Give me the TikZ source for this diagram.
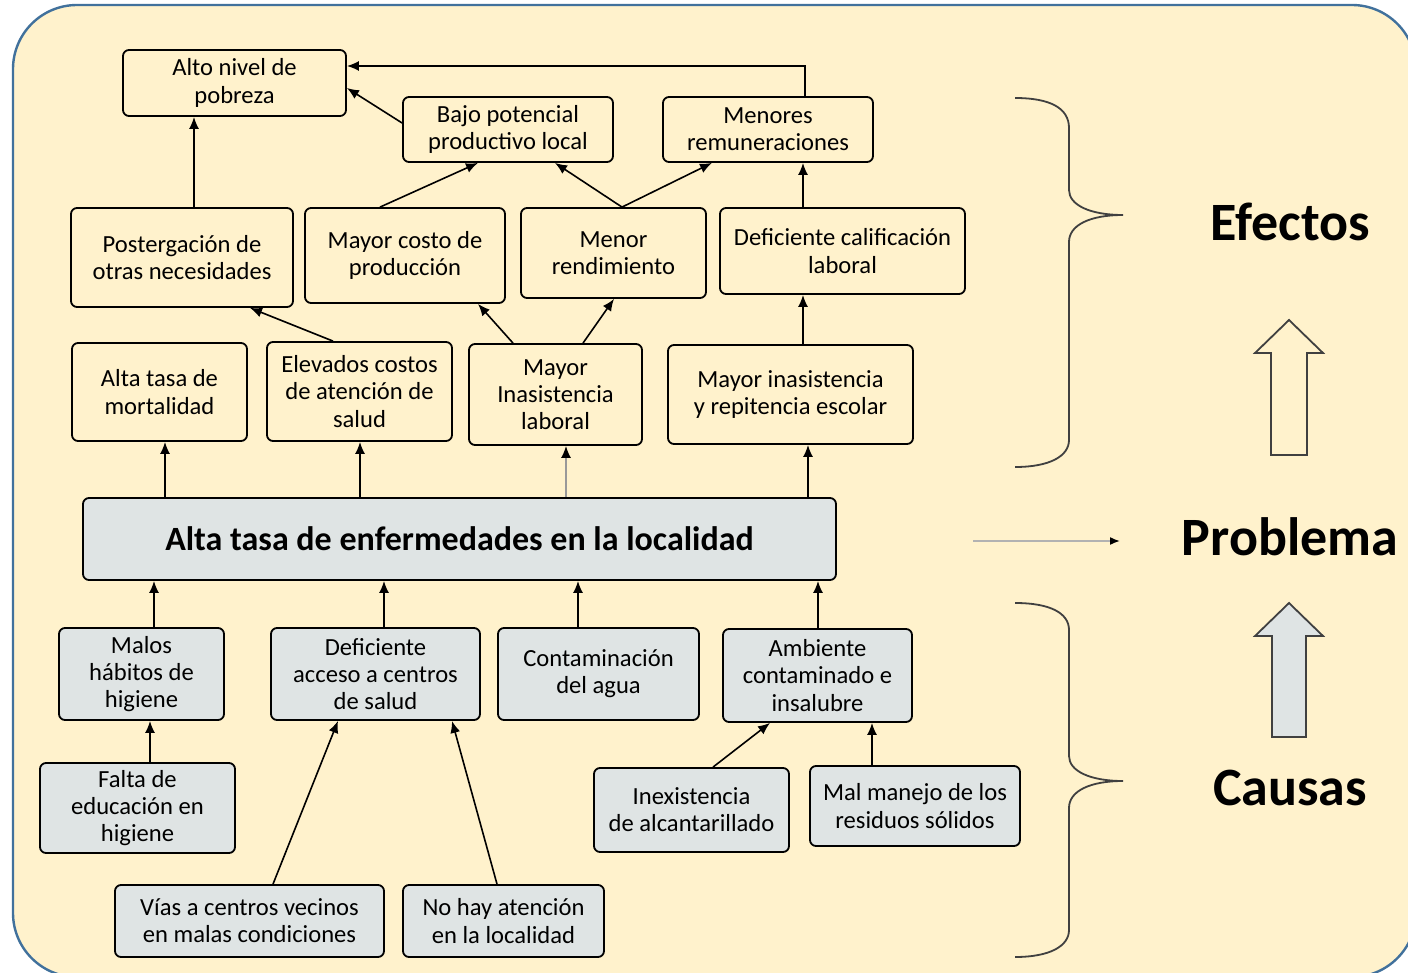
\documentclass[tikz,border=0pt]{standalone}
\usepackage{fontspec}
\setmainfont{Carlito}
\usetikzlibrary{arrows.meta}
\definecolor{cream}{HTML}{FFF2CC}
\definecolor{causegray}{HTML}{DFE4E4}
\definecolor{frameblue}{HTML}{41719C}
\tikzset{%
  >={Latex[width=5pt,length=6pt]},
  % Specifications for style of nodes:
         base/.style = {rectangle, rounded corners=3pt, draw=black,
                        line width=0.9pt, inner sep=0pt, align=center,
                        font=\fontsize{12.3}{13.6}\selectfont},
       effect/.style = {base},
        cause/.style = {base, fill=causegray},
      problem/.style = {base, fill=causegray,
                        font=\fontsize{17}{20}\bfseries},
        level/.style = {font=\fontsize{27}{32}\bfseries},
    connector/.style = {->, line width=0.8pt},
        brace/.style = {draw=black!75, line width=0.9pt},
}

\begin{document}
\begin{tikzpicture}[x=0.5pt, y=-0.5pt]
  \useasboundingbox (0,0) rectangle (1408,973);
  \clip (0,0) rectangle (1408,973);
  \filldraw[fill=cream, draw=frameblue, line width=1.2pt, rounded corners=32pt]
    (13,5) rectangle (1416,977);

  % Specification of nodes (position, etc.)
  % effects
  \node (pobreza)   [effect, minimum width=111.5pt, minimum height=33pt]
                    at (234.5,83)  {Alto nivel de\\pobreza};
  \node (bajo)      [effect, minimum width=105pt, minimum height=32.5pt]
                    at (508,129.5) {Bajo potencial\\productivo local};
  \node (menores)   [effect, minimum width=105pt, minimum height=32.5pt]
                    at (768,129.5) {Menores\\remuneraciones};
  \node (posterga)  [effect, minimum width=111pt, minimum height=49.5pt]
                    at (182,257.5) {Postergación de\\otras necesidades};
  \node (costo)     [effect, minimum width=100pt, minimum height=47.5pt]
                    at (405,255.5) {Mayor costo de\\producción};
  \node (rendim)    [effect, minimum width=92.5pt, minimum height=45pt]
                    at (613.5,253) {Menor\\rendimiento};
  \node (califica)  [effect, minimum width=122.5pt, minimum height=43pt]
                    at (842.5,251) {Deficiente calificación\\laboral};
  \node (mortal)    [effect, minimum width=87.5pt, minimum height=49pt]
                    at (159.5,392) {Alta tasa de\\mortalidad};
  \node (elevados)  [effect, minimum width=92.5pt, minimum height=49.5pt]
                    at (359.5,391.5) {Elevados costos\\de atención de\\salud};
  \node (inasist)   [effect, minimum width=86.5pt, minimum height=50.5pt]
                    at (555.5,394.5) {Mayor\\Inasistencia\\laboral};
  \node (escolar)   [effect, minimum width=122.5pt, minimum height=49.5pt]
                    at (790.5,394.5) {Mayor inasistencia\\y repitencia escolar};
  % problem
  \node (problema)  [problem, minimum width=376.5pt, minimum height=41pt]
                    at (459.5,539) {Alta tasa de enfermedades en la localidad};
  % causes
  \node (malos)     [cause, minimum width=82.5pt, minimum height=46pt]
                    at (141.5,674) {Malos\\hábitos de\\higiene};
  \node (acceso)    [cause, minimum width=104.5pt, minimum height=46pt]
                    at (375.5,674) {Deficiente\\acceso a centros\\de salud};
  \node (agua)      [cause, minimum width=100.5pt, minimum height=46pt]
                    at (598.5,674) {Contaminación\\del agua};
  \node (ambiente)  [cause, minimum width=94.5pt, minimum height=46.5pt]
                    at (817.5,675.5) {Ambiente\\contaminado e\\insalubre};
  \node (falta)     [cause, minimum width=97.5pt, minimum height=45pt]
                    at (137.5,808) {Falta de\\educación en\\higiene};
  \node (inexist)   [cause, minimum width=97.5pt, minimum height=42pt]
                    at (691.5,810) {Inexistencia\\de alcantarillado};
  \node (manejo)    [cause, minimum width=105pt, minimum height=40pt]
                    at (915,806)   {Mal manejo de los\\residuos sólidos};
  \node (vias)      [cause, minimum width=134.5pt, minimum height=36pt]
                    at (249.5,921) {Vías a centros vecinos\\en malas condiciones};
  \node (nohay)     [cause, minimum width=100.5pt, minimum height=36pt]
                    at (503.5,921) {No hay atención\\en la localidad};
  % levels
  \node (efectosLbl)  [level] at (1290,222) {Efectos};
  \node (problemaLbl) [level] at (1290,537) {Problema};
  \node (causasLbl)   [level] at (1290,788) {Causas};

  % Specification of lines between nodes specified above
  \draw[connector] (posterga.north -| 194,0) -- (pobreza.south -| 194,0);
  \draw[connector] (bajo.west |- 0,123)      -- (pobreza.east |- 0,88);
  \draw[connector] (menores.north -| 805,0)  |- (pobreza.east |- 0,66);
  \draw[connector] (costo.north -| 380,0)    -- (bajo.south -| 478,0);
  \draw[connector] (rendim.north -| 622,0)   -- (bajo.south -| 555,0);
  \draw[connector] (rendim.north -| 622,0)   -- (menores.south -| 712,0);
  \draw[connector] (califica.north -| 803,0) -- (menores.south -| 803,0);
  \draw[connector] (elevados.north -| 333,0) -- (posterga.south -| 250,0);
  \draw[connector] (inasist.north -| 513,0)  -- (costo.south -| 478,0);
  \draw[connector] (inasist.north -| 583,0)  -- (rendim.south -| 614,0);
  \draw[connector] (escolar.north -| 803,0)  -- (califica.south -| 803,0);
  % problem to effects
  \draw[connector] (problema.north -| 165,0) -- (mortal.south -| 165,0);
  \draw[connector] (problema.north -| 360,0) -- (elevados.south -| 360,0);
  \draw[line width=0.8pt, draw=black!40, -{Latex[black,width=5pt,length=6pt]}]
                   (problema.north -| 566,0) -- (inasist.south -| 566,0);
  \draw[connector] (problema.north -| 808,0) -- (escolar.south -| 808,0);
  % causes to problem
  \draw[connector] (malos.north -| 154,0)    -- (problema.south -| 154,0);
  \draw[connector] (acceso.north -| 384,0)   -- (problema.south -| 384,0);
  \draw[connector] (agua.north -| 578,0)     -- (problema.south -| 578,0);
  \draw[connector] (ambiente.north -| 818,0) -- (problema.south -| 818,0);
  % deeper causes
  \draw[connector] (falta.north -| 150,0)    -- (malos.south -| 150,0);
  \draw[connector] (vias.north -| 273,0)     -- (acceso.south -| 338,0);
  \draw[connector] (nohay.north -| 497,0)    -- (acceso.south -| 452,0);
  \draw[connector] (inexist.north -| 713,0)  -- (ambiente.south -| 770,0);
  \draw[connector] (manejo.north -| 872,0)   -- (ambiente.south -| 872,0);

  % braces and level arrows
  \draw[brace] (1015,98) .. controls (1050,98) and (1069,108) .. (1069,128)
    -- (1069,190) .. controls (1069,205) and (1090,215) .. (1123,215)
    .. controls (1090,215) and (1069,225) .. (1069,242)
    -- (1069,440) .. controls (1069,456) and (1050,467) .. (1015,467);
  \draw[brace] (1015,603) .. controls (1050,603) and (1069,613) .. (1069,630)
    -- (1069,756) .. controls (1069,771) and (1090,781) .. (1123,781)
    .. controls (1090,781) and (1069,791) .. (1069,808)
    -- (1069,930) .. controls (1069,946) and (1050,957) .. (1015,957);
  \draw[brace] (1271,455) -- (1271,353) -- (1255,353) -- (1289,320)
    -- (1323,353) -- (1307,353) -- (1307,455) -- cycle;
  \draw[brace, fill=causegray] (1272,737) -- (1272,636) -- (1255,636)
    -- (1289,603) -- (1323,636) -- (1306,636) -- (1306,737) -- cycle;
  \coordinate (pfrom) at (973,541);
  \coordinate (pto)   at (1120,541);
  \draw[black!30, line width=0.8pt, -{Latex[black,width=4pt,length=5pt]}]
    (pfrom) -- (pto);
\end{tikzpicture}
\end{document}
